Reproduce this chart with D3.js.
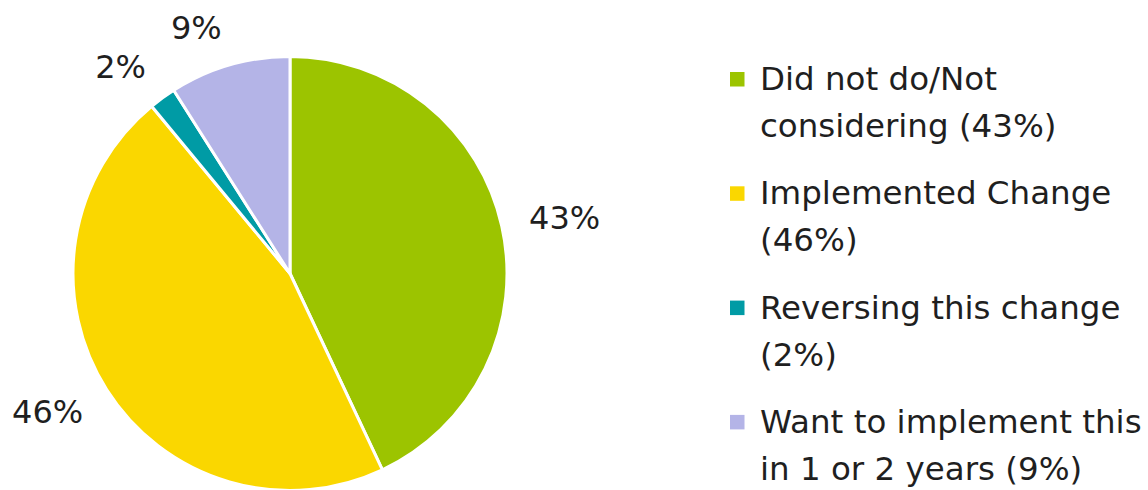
<!DOCTYPE html>
<html>
<head>
<meta charset="utf-8">
<script src="https://cdn.jsdelivr.net/npm/d3@7"></script>
<style>
  html, body { margin: 0; padding: 0; background: #ffffff; }
  svg { display: block; }
  text { font-family: "DejaVu Sans", sans-serif; fill: #1f1f1f; }
</style>
</head>
<body>
<svg id="chart" width="1148" height="490"></svg>
<script>
// Survey responses (percent of respondents)
const categories = [
  "Did not do/Not considering",
  "Implemented Change",
  "Reversing this change",
  "Want to implement this in 1 or 2 years"
];
const values = [43, 46, 2, 9];
const colors = ["#9cc400", "#fad700", "#009ba5", "#b4b4e7"];
// Legend text, wrapped as it is shown
const legendLines = [
  ["Did not do/Not", "considering (43%)"],
  ["Implemented Change", "(46%)"],
  ["Reversing this change", "(2%)"],
  ["Want to implement this", "in 1 or 2 years (9%)"]
];

const svg = d3.select("#chart");
const W = 1148, H = 490;

const cx = 290, cy = 273.5, R = 217;

const data = categories.map((c, i) => ({ name: c, value: values[i], color: colors[i] }));

const pie = d3.pie().value(d => d.value).sort(null);
const arcs = pie(data);
const arc = d3.arc().innerRadius(0).outerRadius(R);

const g = svg.append("g").attr("transform", `translate(${cx},${cy})`);

g.selectAll("path.slice")
  .data(arcs)
  .join("path")
  .attr("class", "slice")
  .attr("d", arc)
  .attr("fill", d => d.data.color)
  .attr("stroke", "#ffffff")
  .attr("stroke-width", 3)
  .attr("stroke-linejoin", "round");

// Data labels placed just outside each slice
const labelFont = 32;
const capH = labelFont * 0.73;
const gap = 28;
g.selectAll("text.pct")
  .data(arcs)
  .join("text")
  .attr("class", "pct")
  .attr("font-size", labelFont)
  .each(function (d) {
    const a = (d.startAngle + d.endAngle) / 2;
    const dx = Math.sin(a), dy = -Math.cos(a);
    const px = dx * (R + gap), py = dy * (R + gap);
    const t = d3.select(this)
      .text(d.data.value + "%")
      .attr("text-anchor", dx >= 0 ? "start" : "end")
      .attr("x", px);
    const yc = py + dy * capH / 2;
    t.attr("y", yc + capH / 2);
  });

// Legend
const legendX = 730, textX = 760;
const firstBaseline = 90, itemStep = 114.3, lineStep = 47;
const sq = 14.5, legendFont = 32.5;

const items = svg.append("g").selectAll("g.item")
  .data(data)
  .join("g")
  .attr("class", "item")
  .attr("transform", (d, i) => `translate(0,${firstBaseline + i * itemStep})`);

items.append("rect")
  .attr("x", legendX)
  .attr("y", -18)
  .attr("width", sq)
  .attr("height", sq)
  .attr("fill", d => d.color);

items.each(function (d, i) {
  d3.select(this).selectAll("text")
    .data(legendLines[i])
    .join("text")
    .attr("x", textX)
    .attr("y", (l, j) => j * lineStep)
    .attr("font-size", legendFont)
    .text(l => l);
});
</script>
</body>
</html>
